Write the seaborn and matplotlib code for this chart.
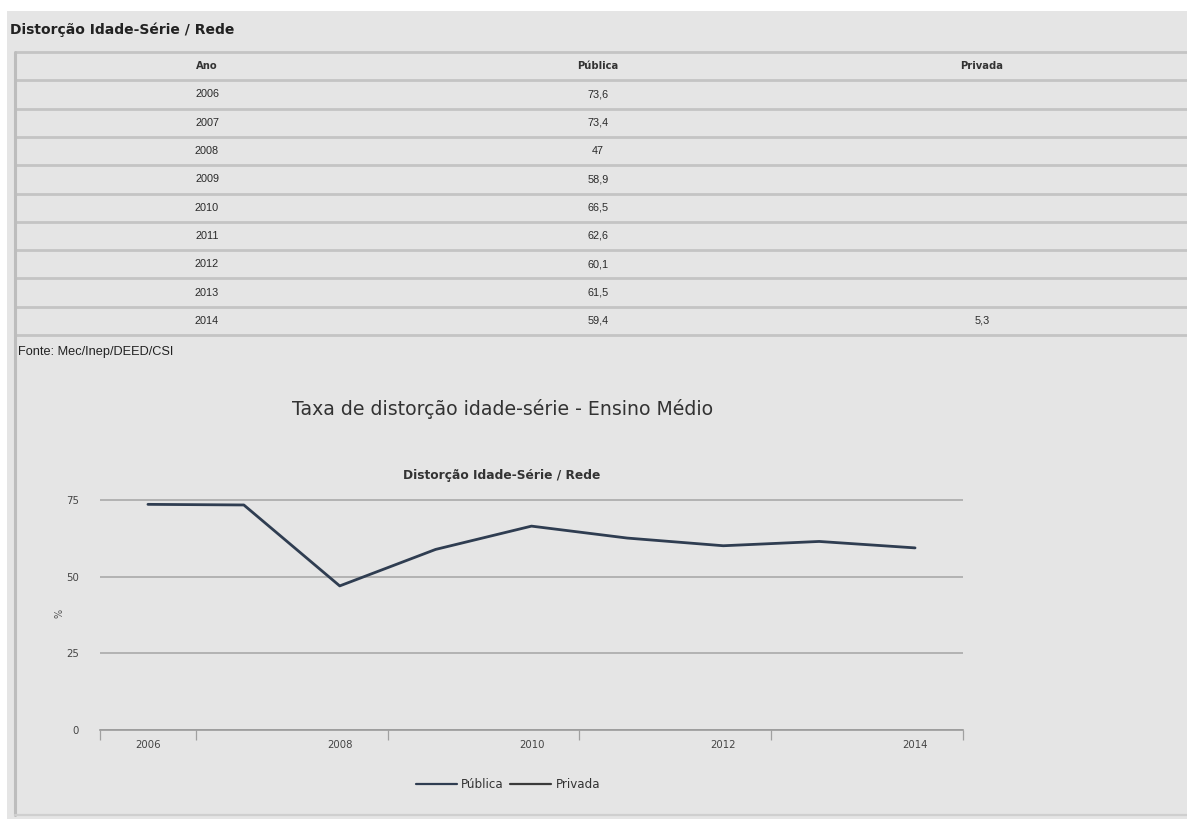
import numpy as np
import pandas as pd
import matplotlib
matplotlib.use("Agg")
import matplotlib.pyplot as plt
from matplotlib.patches import Rectangle
from matplotlib.lines import Line2D
import seaborn as sns

# Distorção idade-série por rede (Ensino Médio)
anos = [2006, 2007, 2008, 2009, 2010, 2011, 2012, 2013, 2014]
publica = [73.6, 73.4, 47, 58.9, 66.5, 62.6, 60.1, 61.5, 59.4]
privada = [np.nan, np.nan, np.nan, np.nan, np.nan, np.nan, np.nan, np.nan, 5.3]
colunas = ["Ano", "Pública", "Privada"]
yticks = [0, 25, 50, 75]
xticks = [2006, 2008, 2010, 2012, 2014]

sns.set_theme(style="white")
plt.rcParams["font.family"] = ["DejaVu Sans"]

W, H = 1187, 819
PANEL = "#e5e5e5"
RULE = "#c4c4c4"
LINE_COLOR = "#2f3d51"

fig = plt.figure(figsize=(W / 100, H / 100), dpi=100, facecolor="white")

# Background canvas in pixel coordinates (origin top-left)
bg = fig.add_axes([0, 0, 1, 1])
bg.set_xlim(0, W)
bg.set_ylim(H, 0)
bg.axis("off")
bg.add_patch(Rectangle((7, 11), W - 7, H - 11, facecolor=PANEL, edgecolor="none"))

# Block title
bg.text(10, 30, "Distorção Idade-Série / Rede", fontsize=10, fontweight="bold",
        color="#222222", ha="left", va="center")

# Table frame and row rules
row_top = 52
row_h = 28.3
n_rows = len(anos) + 1
for k in range(n_rows + 1):
    y = row_top + k * row_h
    bg.plot([15, W], [y, y], color=RULE, lw=2.0, solid_capstyle="butt")
bg.plot([15, 15], [row_top, 815], color="#bdbdbd", lw=2.2)
bg.plot([15, W], [815, 815], color="#cfcfcf", lw=1.6)

col_x = [207, 598, 982]
table_font = ["Liberation Sans", "DejaVu Sans"]

def fmt(v):
    if v is None or (isinstance(v, float) and np.isnan(v)):
        return ""
    return f"{v:g}".replace(".", ",")

for cx, name in zip(col_x, colunas):
    bg.text(cx, row_top + row_h / 2, name, fontsize=7.2, fontweight="bold",
            family=["DejaVu Sans"], color="#333333", ha="center", va="center")

for i, (a, pu, pr) in enumerate(zip(anos, publica, privada)):
    yc = row_top + (i + 1) * row_h + row_h / 2
    for cx, val in zip(col_x, [str(a), fmt(pu), fmt(pr)]):
        bg.text(cx, yc, val, fontsize=7.8, family=table_font, color="#2a2a2a",
                ha="center", va="center")

bg.text(18, 352, "Fonte: Mec/Inep/DEED/CSI", fontsize=9.2,
        family=["Liberation Sans"], color="#222222",
        ha="left", va="center")

# Chart titles
bg.text(503, 409, "Taxa de distorção idade-série - Ensino Médio", fontsize=13.6,
        color="#333333", ha="center", va="center")
bg.text(502, 476, "Distorção Idade-Série / Rede", fontsize=8.8, fontweight="bold",
        color="#333333", ha="center", va="center")

# Line chart
df = pd.DataFrame({"Ano": anos, "Pública": publica, "Privada": privada})
long = df.melt(id_vars="Ano", var_name="Rede", value_name="Taxa")

x0, x1 = 100, 963
y_zero, y_top_px = 730, 497
ymax = 76
ax = fig.add_axes([x0 / W, 1 - y_zero / H, (x1 - x0) / W, (y_zero - y_top_px) / H])
ax.set_facecolor("none")
sns.lineplot(data=long, x="Ano", y="Taxa", hue="Rede", hue_order=["Pública", "Privada"],
             palette=[LINE_COLOR, "#3a3a3a"], linewidth=2.0, ax=ax, legend=False)

ax.set_xlim(2005.5, 2014.5)
ax.set_ylim(0, ymax)
ax.set_yticks(yticks)
ax.set_yticklabels([str(t) for t in yticks])
ax.set_xticks(xticks)
ax.set_xticklabels([str(t) for t in xticks])
ax.set_xticks([2005.5, 2006.5, 2008.5, 2010.5, 2012.5, 2014.5], minor=True)
ax.tick_params(axis="x", which="major", bottom=True, length=0, pad=7, labelsize=7.3,
               labelcolor="#444444")
ax.tick_params(axis="x", which="minor", bottom=True, length=7, width=0.9, color="#a0a0a0",
               direction="out")
ax.tick_params(axis="y", length=0, pad=15, labelsize=7.3, labelcolor="#444444")
ax.grid(axis="y", color="#a9a9a9", lw=1.2)
ax.grid(axis="x", visible=False)
for side in ["top", "right", "left"]:
    ax.spines[side].set_visible(False)
ax.spines["bottom"].set_color("#9a9a9a")
ax.spines["bottom"].set_linewidth(1.2)
ax.set_xlabel("")
ax.set_ylabel("%", fontsize=7, color="#555555", labelpad=1)

handles = [Line2D([], [], color=LINE_COLOR, lw=1.6), Line2D([], [], color="#3a3a3a", lw=1.6)]
fig.legend(handles, ["Pública", "Privada"], loc="center", bbox_to_anchor=(508 / W, 1 - 785 / H),
           ncol=2, frameon=False, fontsize=8.6, handlelength=3.4, handletextpad=0.4,
           columnspacing=0.5, labelcolor="#333333")

fig.savefig("out.png", dpi=100, facecolor="white")
